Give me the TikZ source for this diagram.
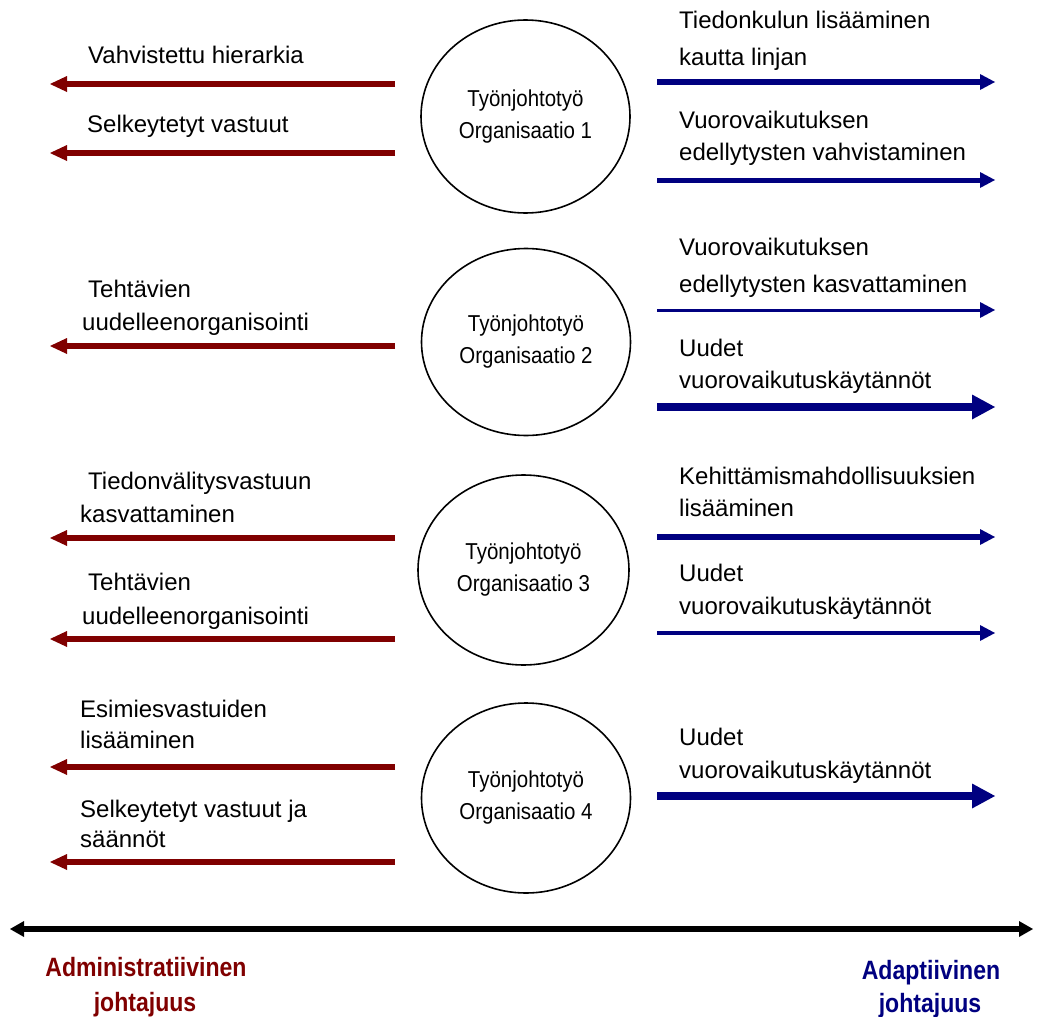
\documentclass[tikz,border=0pt]{standalone}
\usepackage{fontspec}
\setmainfont{Liberation Sans}
\newfontfamily\narrowfont[FakeStretch=0.89]{Liberation Sans}
\newfontfamily\condfont[FakeStretch=0.87]{Liberation Sans}
\usetikzlibrary{arrows.meta,shapes.geometric}
\definecolor{admred}{RGB}{128,0,0}
\definecolor{adanavy}{RGB}{0,0,128}
\begin{document}
\begin{tikzpicture}[x=1pt,y=-1pt,
  lbl/.style={anchor=base west, inner sep=0pt, font=\fontsize{24}{30}\selectfont},
  org/.style={ellipse, draw, line width=1.6pt, minimum width=209pt, minimum height=193pt,
    inner sep=0pt, align=center, font=\narrowfont\fontsize{23}{32}\selectfont},
  leftarr/.style={draw=admred, line width=6pt, -{Triangle[length=17pt,width=16pt,line width=0pt]}},
  rightarr/.style={draw=adanavy, line width=#1, -{Triangle[length=15pt,width=16pt,line width=0pt]}},
  bigarr/.style={draw=adanavy, line width=#1, -{Triangle[length=23pt,width=25pt,line width=0pt]}},
  bot/.style={anchor=base, inner sep=0pt, font=\condfont\bfseries\fontsize{26.5}{30}\selectfont}
]
\useasboundingbox (0,0) rectangle (1037,1017);

% circles
\node[org] (o1) at (525.5,116.5) {Työnjohtotyö\\Organisaatio 1};
\node[org, minimum height=187pt] (o2) at (526,342) {Työnjohtotyö\\Organisaatio 2};
\node[org, minimum width=211pt, minimum height=190pt] (o3) at (523.5,570) {Työnjohtotyö\\Organisaatio 3};
\node[org, minimum height=190pt] (o4) at (526,798) {Työnjohtotyö\\Organisaatio 4};

% left labels
\node[lbl] (t1) at (88,63) {Vahvistettu hierarkia};
\node[lbl] (t2) at (87,132) {Selkeytetyt vastuut};
\node[lbl] (t3a) at (88,297) {Tehtävien};
\node[lbl] (t3b) at (82,330) {uudelleenorganisointi};
\node[lbl] (t4a) at (88,489) {Tiedonvälitysvastuun};
\node[lbl] (t4b) at (80,522) {kasvattaminen};
\node[lbl] (t5a) at (88,590) {Tehtävien};
\node[lbl] (t5b) at (82,624) {uudelleenorganisointi};
\node[lbl] (t6a) at (80,717) {Esimiesvastuiden};
\node[lbl] (t6b) at (80,748) {lisääminen};
\node[lbl] (t7a) at (80,817) {Selkeytetyt vastuut ja};
\node[lbl] (t7b) at (80,847) {säännöt};

% left arrows
\foreach \n/\y in {1/84, 2/153, 3/346, 4/538, 5/639, 6/767, 7/862}{
  \coordinate (ls\n) at (395,\y);
  \coordinate (le\n) at (50,\y);
  \draw[leftarr] (ls\n) -- (le\n);
}

% right labels
\node[lbl] (r1a) at (679,28) {Tiedonkulun lisääminen};
\node[lbl] (r1b) at (679,65) {kautta linjan};
\node[lbl] (r2a) at (679,128) {Vuorovaikutuksen};
\node[lbl] (r2b) at (679,160) {edellytysten vahvistaminen};
\node[lbl] (r3a) at (679,255) {Vuorovaikutuksen};
\node[lbl] (r3b) at (679,292) {edellytysten kasvattaminen};
\node[lbl] (r4a) at (679,356) {Uudet};
\node[lbl] (r4b) at (679,388) {vuorovaikutuskäytännöt};
\node[lbl] (r5a) at (679,484) {Kehittämismahdollisuuksien};
\node[lbl] (r5b) at (679,516) {lisääminen};
\node[lbl] (r6a) at (679,581) {Uudet};
\node[lbl] (r6b) at (679,614) {vuorovaikutuskäytännöt};
\node[lbl] (r7a) at (679,745) {Uudet};
\node[lbl] (r7b) at (679,778) {vuorovaikutuskäytännöt};

% right arrows
\foreach \n/\y in {1/82, 2/180, 3/310, 4/407, 5/537, 6/633, 7/796}{
  \coordinate (rs\n) at (657,\y);
  \coordinate (re\n) at (995,\y);
}
\draw[rightarr=6pt] (rs1) -- (re1);
\draw[rightarr=5pt] (rs2) -- (re2);
\draw[rightarr=3pt] (rs3) -- (re3);
\draw[bigarr=8.5pt] (rs4) -- (re4);
\draw[rightarr=6pt] (rs5) -- (re5);
\draw[rightarr=4pt] (rs6) -- (re6);
\draw[bigarr=8pt] (rs7) -- (re7);

% axis
\coordinate (axL) at (10,929);
\coordinate (axR) at (1033,929);
\draw[line width=6pt, {Triangle[length=14pt,width=16pt,line width=0pt]}-{Triangle[length=14pt,width=16pt,line width=0pt]}] (axL) -- (axR);

% bottom labels
\node[bot, text=admred] (adm1) at (146,976) {Administratiivinen};
\node[bot, text=admred] (adm2) at (145,1011) {johtajuus};
\node[bot, text=adanavy] (ada1) at (931,979) {Adaptiivinen};
\node[bot, text=adanavy] (ada2) at (930,1012) {johtajuus};
\end{tikzpicture}
\end{document}
